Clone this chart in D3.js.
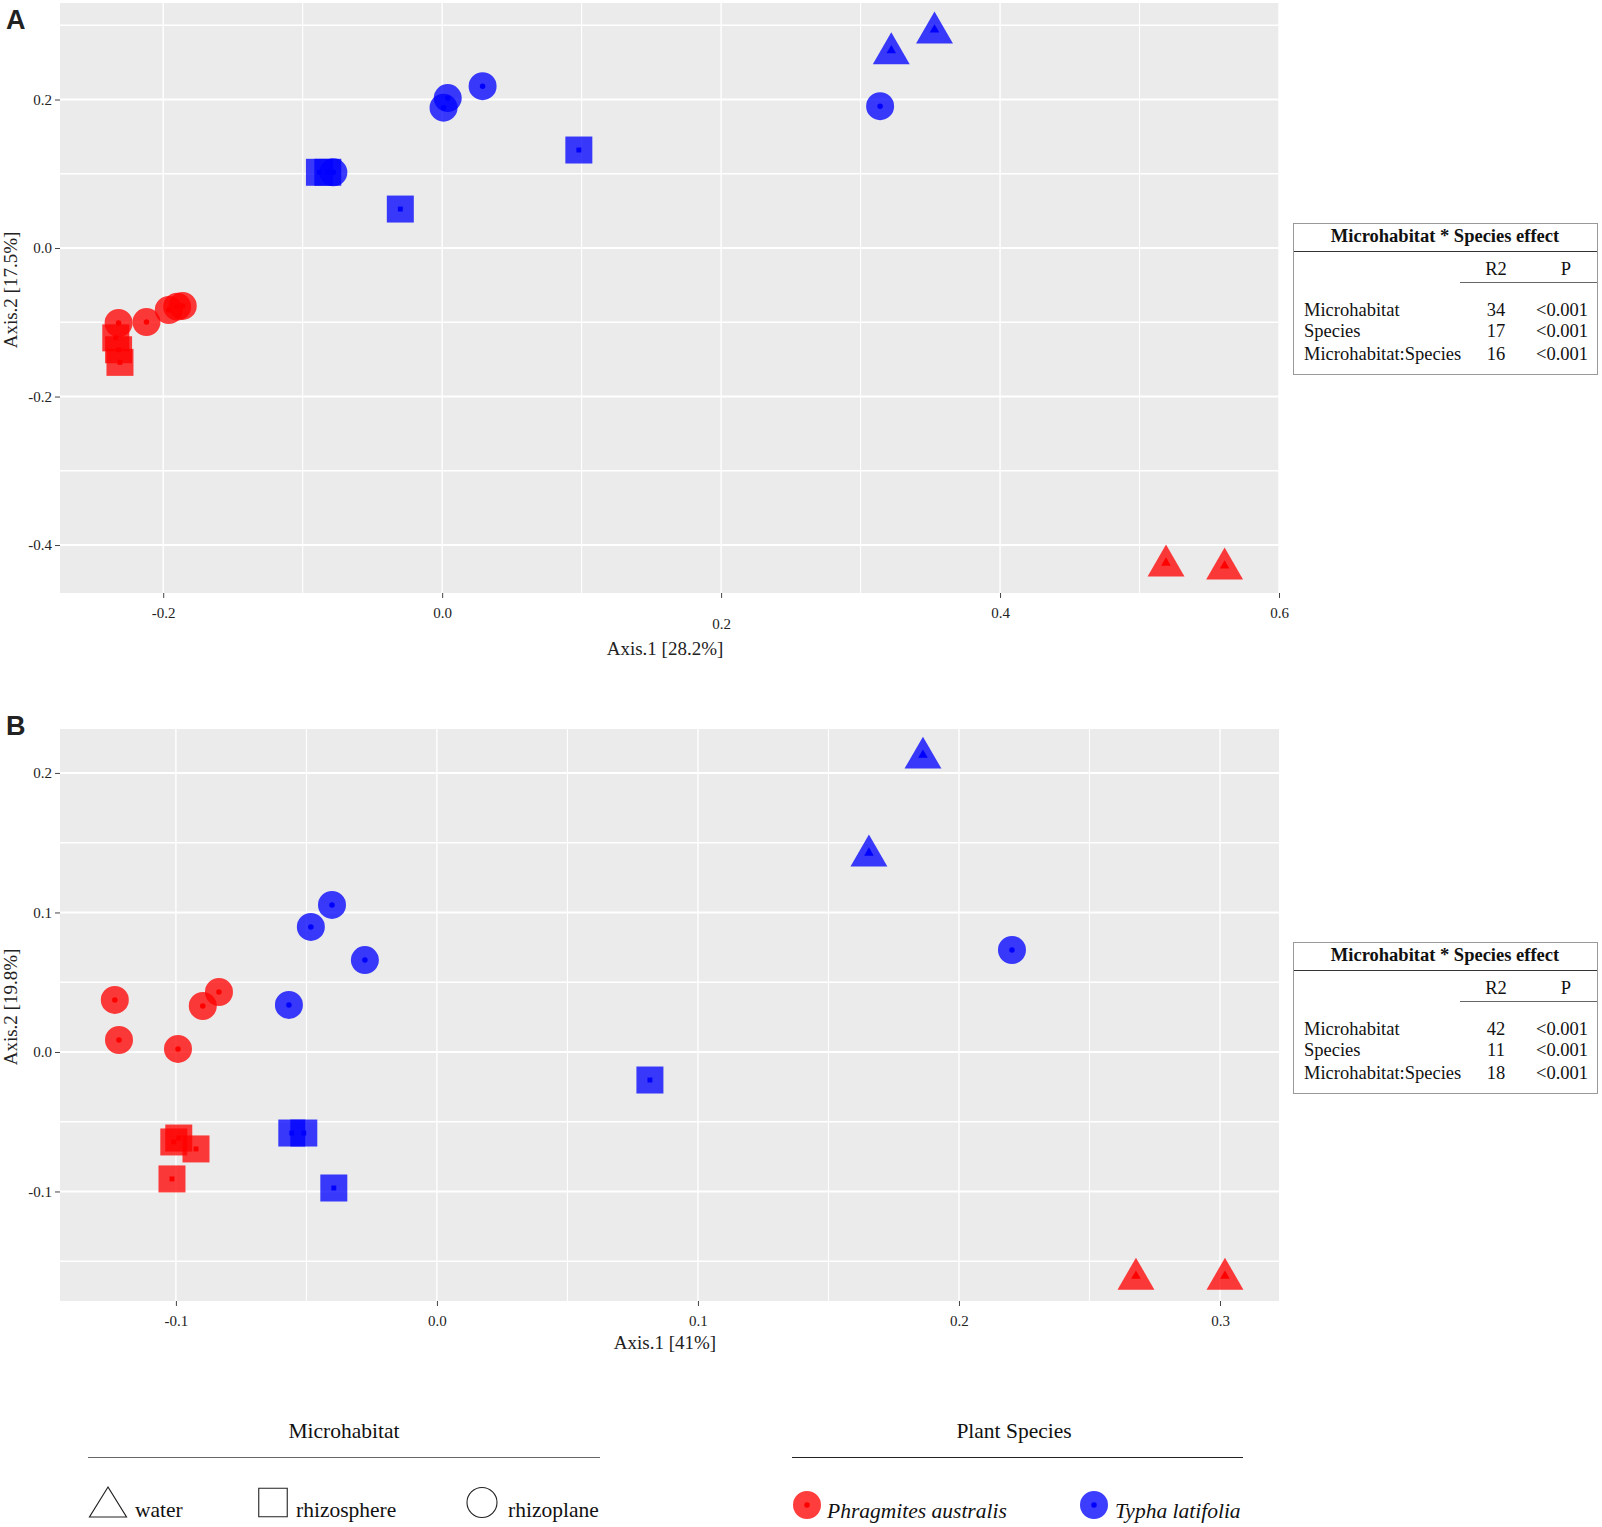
<!DOCTYPE html>
<html>
<head>
<meta charset="utf-8">
<script src="https://cdn.jsdelivr.net/npm/d3@7"></script>
<style>
  html,body{margin:0;padding:0;background:#fff;}
  svg{display:block;font-family:"Liberation Serif","Times New Roman",serif;}
</style>
</head>
<body>
<svg id="chart" width="1602" height="1527"></svg>
<script>
/* PCoA ordination, two panels + PERMANOVA tables + shared legend */

/* ---------- DATA ---------- */
const SPECIES=["Phragmites australis","Typha latifolia"];
const HABITATS=["water","rhizosphere","rhizoplane"];

/* panel A: [axis1, axis2, species index, habitat index] */
const A_POINTS=[
  [0.322,0.266,1,0],[0.353,0.294,1,0],
  [0.314,0.191,1,2],[0.029,0.218,1,2],[0.004,0.202,1,2],[0.001,0.189,1,2],
  [-0.088,0.102,1,1],[-0.082,0.102,1,1],[-0.078,0.102,1,2],
  [-0.030,0.0525,1,1],[0.098,0.132,1,1],
  [-0.232,-0.101,0,2],[-0.212,-0.0997,0,2],[-0.196,-0.0835,0,2],
  [-0.190,-0.079,0,2],[-0.186,-0.078,0,2],
  [-0.234,-0.121,0,1],[-0.232,-0.137,0,1],[-0.231,-0.154,0,1],
  [0.519,-0.424,0,0],[0.561,-0.428,0,0]
];
/* panel B */
const B_POINTS=[
  [0.1862,0.2129,1,0],[0.1655,0.1427,1,0],
  [-0.0567,0.0337,1,2],[-0.0483,0.0896,1,2],[-0.0402,0.1054,1,2],
  [-0.0276,0.0659,1,2],[0.2203,0.0731,1,2],
  [-0.0556,-0.0581,1,1],[-0.0510,-0.0581,1,1],[-0.0395,-0.0975,1,1],[0.0816,-0.0201,1,1],
  [-0.1234,0.0373,0,2],[-0.1218,0.0086,0,2],[-0.0992,0.0022,0,2],
  [-0.0897,0.0330,0,2],[-0.0835,0.0430,0,2],
  [-0.1008,-0.0645,0,1],[-0.0989,-0.0617,0,1],[-0.0923,-0.0695,0,1],[-0.1015,-0.0910,0,1],
  [0.2678,-0.1606,0,0],[0.3019,-0.1606,0,0]
];

const A_XTICKS=[-0.2,0,0.2,0.4,0.6], A_YTICKS=[-0.4,-0.2,0,0.2];
const B_XTICKS=[-0.1,0,0.1,0.2,0.3], B_YTICKS=[-0.1,0,0.1,0.2];
const A_XDOM=[-0.274,0.600], A_YDOM=[-0.4646,0.330];
const B_XDOM=[-0.1444,0.3226], B_YDOM=[-0.1785,0.2315];
const A_XTITLE="Axis.1 [28.2%]", A_YTITLE="Axis.2 [17.5%]";
const B_XTITLE="Axis.1 [41%]",   B_YTITLE="Axis.2 [19.8%]";

const TABLE_TITLE="Microhabitat * Species effect";
const TABLE_HEAD=["R2","P"];
const TABLE_TERMS=["Microhabitat","Species","Microhabitat:Species"];
const A_R2=[34,17,16], B_R2=[42,11,18];
const A_P=["<0.001","<0.001","<0.001"], B_P=["<0.001","<0.001","<0.001"];

/* ---------- CONFIG ---------- */
const COL=["#FF0000","#0000FF"];
const PANEL_BG="#EBEBEB";
const PL=60, PR=1279;
const SYM=[d3.symbolTriangle,d3.symbolSquare,d3.symbolCircle];
const SYM_SIZE=[590,729,616];
const SYM_DY=[3,0,0];           /* triangles sit a little low on their point */
const FS_TICK=15, FS_TITLE=19, FS_TABLE=18.5, FS_LEG=21.5;

const svg=d3.select("#chart");
svg.append("rect").attr("width",1602).attr("height",1527).attr("fill","#fff");

/* ---------- marker ---------- */
function marker(g,sp,hab,scale){
  const s=scale||1;
  g.append("path")
    .attr("d",d3.symbol().type(SYM[hab]).size(SYM_SIZE[hab]*s*s)())
    .attr("transform",`translate(0,${SYM_DY[hab]*s})`)
    .attr("fill",COL[sp]).attr("fill-opacity",0.76);
  g.append("path")
    .attr("d",d3.symbol().type(SYM[hab]).size(hab===0?40:24)())
    .attr("fill",COL[sp]);
}

/* ---------- panel ---------- */
function drawPanel(cfg){
  const g=svg.append("g");
  const x=d3.scaleLinear().domain(cfg.xDom).range([PL,PR]);
  const y=d3.scaleLinear().domain(cfg.yDom).range([cfg.bottom,cfg.top]);

  g.append("rect").attr("x",PL).attr("y",cfg.top)
    .attr("width",PR-PL).attr("height",cfg.bottom-cfg.top).attr("fill",PANEL_BG);

  const stepX=cfg.xTicks[1]-cfg.xTicks[0], stepY=cfg.yTicks[1]-cfg.yTicks[0];
  const minor=(ticks,step,dom)=>[ticks[0]-step/2,...ticks.map(t=>t+step/2)]
        .filter(v=>v>dom[0]&&v<dom[1]);

  const grid=g.append("g").attr("stroke","#fff").attr("fill","none");
  minor(cfg.xTicks,stepX,cfg.xDom).forEach(v=>grid.append("line")
      .attr("x1",x(v)).attr("x2",x(v)).attr("y1",cfg.top).attr("y2",cfg.bottom).attr("stroke-width",1.1));
  minor(cfg.yTicks,stepY,cfg.yDom).forEach(v=>grid.append("line")
      .attr("y1",y(v)).attr("y2",y(v)).attr("x1",PL).attr("x2",PR).attr("stroke-width",1.6));
  cfg.xTicks.forEach(v=>grid.append("line")
      .attr("x1",x(v)).attr("x2",x(v)).attr("y1",cfg.top).attr("y2",cfg.bottom).attr("stroke-width",1.4));
  cfg.yTicks.forEach(v=>grid.append("line")
      .attr("y1",y(v)).attr("y2",y(v)).attr("x1",PL).attr("x2",PR).attr("stroke-width",1.9));

  const fmt=d=>(Math.abs(d)<1e-9?0:d).toFixed(1);
  const ax=g.append("g").attr("transform",`translate(0,${cfg.bottom})`)
    .call(d3.axisBottom(x).tickValues(cfg.xTicks).tickFormat(fmt).tickSize(5).tickPadding(9));
  const ay=g.append("g").attr("transform",`translate(${PL},0)`)
    .call(d3.axisLeft(y).tickValues(cfg.yTicks).tickFormat(fmt).tickSize(5).tickPadding(3));
  [ax,ay].forEach(a=>{
    a.attr("font-family",null);
    a.select(".domain").remove();
    a.selectAll("line").attr("stroke","#444");
    a.selectAll("text").attr("font-family","Liberation Serif").attr("font-size",FS_TICK).attr("fill","#222");
  });
  if(cfg.lowTick!==undefined)
    ax.selectAll(".tick").filter(d=>Math.abs(d-cfg.lowTick)<1e-9).select("text").attr("y",25);

  g.append("text").attr("x",665).attr("y",cfg.bottom+(cfg.id==="A"?62:48))
    .attr("text-anchor","middle").attr("font-size",FS_TITLE).attr("fill","#222").text(cfg.xTitle);
  g.append("text").attr("transform",`translate(17,${(cfg.top+cfg.bottom)/2-8}) rotate(-90)`)
    .attr("text-anchor","middle").attr("font-size",FS_TITLE).attr("fill","#222").text(cfg.yTitle);

  g.append("text").attr("x",6).attr("y",cfg.labelY)
    .attr("font-family","Liberation Sans").attr("font-weight","bold").attr("font-size",27)
    .attr("fill","#222").text(cfg.id);

  const pts=g.append("g");
  cfg.points.forEach(p=>{
    const m=pts.append("g").attr("transform",`translate(${x(p[0])},${y(p[1])})`);
    marker(m,p[2],p[3]);
  });

  drawTable(cfg.tableTop,cfg.r2,cfg.p);
}

/* ---------- PERMANOVA table ---------- */
function drawTable(T,r2,p){
  const g=svg.append("g").attr("font-size",FS_TABLE).attr("fill","#111");
  g.append("rect").attr("x",1293.5).attr("y",T+0.5).attr("width",304).attr("height",151)
    .attr("fill","#fff").attr("stroke","#999");
  g.append("text").attr("x",1445).attr("y",T+19).attr("text-anchor","middle")
    .attr("font-weight","bold").text(TABLE_TITLE);
  g.append("line").attr("x1",1294).attr("x2",1597).attr("y1",T+28.5).attr("y2",T+28.5).attr("stroke","#333");
  g.append("text").attr("x",1496).attr("y",T+52).attr("text-anchor","middle").text(TABLE_HEAD[0]);
  g.append("text").attr("x",1566).attr("y",T+52).attr("text-anchor","middle").text(TABLE_HEAD[1]);
  g.append("line").attr("x1",1460).attr("x2",1597).attr("y1",T+59.5).attr("y2",T+59.5).attr("stroke","#666");
  const rowY=[93,114,137];
  TABLE_TERMS.forEach((t,i)=>{
    g.append("text").attr("x",1304).attr("y",T+rowY[i]).text(t);
    g.append("text").attr("x",1496).attr("y",T+rowY[i]).attr("text-anchor","middle").text(r2[i]);
    g.append("text").attr("x",1562).attr("y",T+rowY[i]).attr("text-anchor","middle").text(p[i]);
  });
}

drawPanel({id:"A",top:3,bottom:593,labelY:29,xDom:A_XDOM,yDom:A_YDOM,
  xTicks:A_XTICKS,yTicks:A_YTICKS,xTitle:A_XTITLE,yTitle:A_YTITLE,
  points:A_POINTS,lowTick:0.2,tableTop:223,r2:A_R2,p:A_P});
drawPanel({id:"B",top:729,bottom:1301,labelY:735,xDom:B_XDOM,yDom:B_YDOM,
  xTicks:B_XTICKS,yTicks:B_YTICKS,xTitle:B_XTITLE,yTitle:B_YTITLE,
  points:B_POINTS,tableTop:942,r2:B_R2,p:B_P});

/* ---------- legend ---------- */
const lg=svg.append("g").attr("font-size",FS_LEG).attr("fill","#111");
lg.append("text").attr("x",344).attr("y",1438).attr("text-anchor","middle").text("Microhabitat");
lg.append("line").attr("x1",88).attr("x2",600).attr("y1",1457.5).attr("y2",1457.5).attr("stroke","#666");
lg.append("text").attr("x",1014).attr("y",1438).attr("text-anchor","middle").text("Plant Species");
lg.append("line").attr("x1",792).attr("x2",1243).attr("y1",1457.5).attr("y2",1457.5).attr("stroke","#222");

const HAB_LEG=[{cx:108,cy:1507,tx:135,sx:1.07,size:520},
               {cx:273,cy:1502.5,tx:296,sx:1,size:812},
               {cx:482,cy:1502.5,tx:508,sx:1,size:707}];
HABITATS.forEach((h,i)=>{
  const o=HAB_LEG[i];
  lg.append("path").attr("d",d3.symbol().type(SYM[i]).size(o.size)())
    .attr("transform",`translate(${o.cx},${o.cy}) scale(${o.sx},1)`)
    .attr("fill","none").attr("stroke","#222").attr("stroke-width",1.1);
  lg.append("text").attr("x",o.tx).attr("y",1517).text(h);
});
const SP_LEG=[{cx:807,tx:827},{cx:1094,tx:1115}];
SPECIES.forEach((s,i)=>{
  const m=lg.append("g").attr("transform",`translate(${SP_LEG[i].cx},1505)`);
  marker(m,i,2);
  lg.append("text").attr("x",SP_LEG[i].tx).attr("y",1518).attr("font-style","italic").text(s);
});
</script>
</body>
</html>
